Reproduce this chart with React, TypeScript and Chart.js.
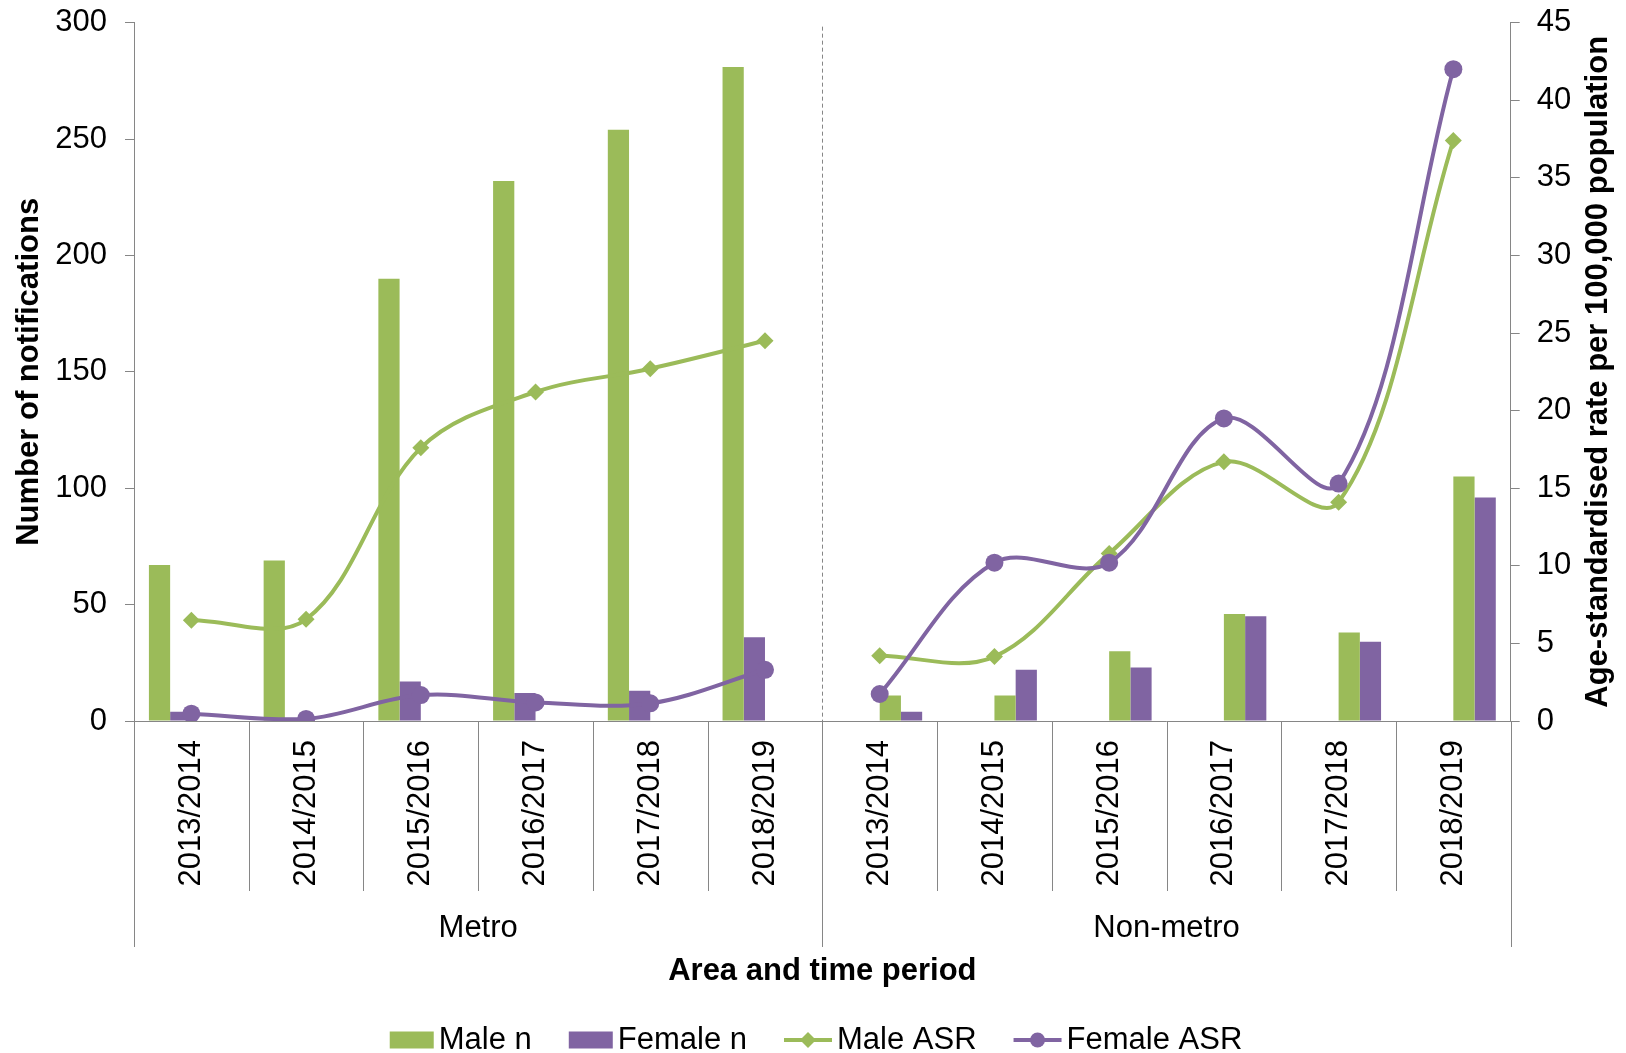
import React, { useEffect, useRef } from 'react';
import { Chart, registerables } from 'chart.js';

Chart.register(...registerables);

// ---------- data ----------
const periods = ['2013/2014', '2014/2015', '2015/2016', '2016/2017', '2017/2018', '2018/2019'];
const areas = ['Metro', 'Non-metro'];

const metroMaleN = [67, 69, 190, 232, 254, 281];
const metroFemaleN = [4, 1, 17, 12, 13, 36];
const nonMetroMaleN = [11, 11, 30, 46, 38, 105];
const nonMetroFemaleN = [4, 22, 23, 45, 34, 96];

const metroMaleASR = [6.5, 6.55, 17.6, 21.2, 22.7, 24.5];
const metroFemaleASR = [0.47, 0.13, 1.67, 1.2, 1.14, 3.3];
const nonMetroMaleASR = [4.2, 4.15, 10.8, 16.7, 14.1, 37.4];
const nonMetroFemaleASR = [1.74, 10.2, 10.2, 19.5, 15.3, 42.0];

const leftAxisMax = 300;
const leftAxisStep = 50;
const rightAxisMax = 45;
const rightAxisStep = 5;

const seriesNames = ['Male n', 'Female n', 'Male ASR', 'Female ASR'];
const leftTitle = 'Number of notifications';
const rightTitle = 'Age-standardised rate per 100,000 population';
const xTitle = 'Area and time period';

// ---------- style ----------
const GREEN = '#9BBB59';
const PURPLE = '#8064A2';
const GRAY = '#868686';
const FONT = "'Liberation Sans', Arial, sans-serif";
const FS = 31;

const nulls = (n: number) => Array(n).fill(null);
const first = (arr: number[]) => [...arr, ...nulls(periods.length)];
const second = (arr: number[]) => [...nulls(periods.length), ...arr];

const decorPlugin = {
  id: 'decor',
  beforeDatasetsDraw(chart: any) {
    const { ctx, chartArea } = chart;
    const x = chart.scales.x;
    const n = chart.data.labels.length;
    const bw = (x.right - x.left) / n;
    const bx = x.left + bw * periods.length;
    ctx.save();
    ctx.strokeStyle = GRAY;
    ctx.lineWidth = 1;
    ctx.setLineDash([4, 3]);
    ctx.beginPath();
    ctx.moveTo(Math.round(bx) + 0.5, chartArea.top + 4);
    ctx.lineTo(Math.round(bx) + 0.5, chartArea.bottom);
    ctx.stroke();
    ctx.restore();
  },
  afterDraw(chart: any) {
    const { ctx, chartArea } = chart;
    const x = chart.scales.x;
    const n = chart.data.labels.length;
    const bw = (x.right - x.left) / n;
    const bottom = chartArea.bottom;
    ctx.save();
    ctx.strokeStyle = GRAY;
    ctx.lineWidth = 1;
    // category separators and group separators
    for (let i = 0; i <= n; i++) {
      const px = Math.round(x.left + bw * i) + 0.5;
      const isGroup = i % periods.length === 0;
      ctx.beginPath();
      ctx.moveTo(px, bottom);
      ctx.lineTo(px, isGroup ? bottom + 226 : bottom + 170);
      ctx.stroke();
    }
    // group labels
    ctx.fillStyle = '#000';
    ctx.font = `${FS}px ${FONT}`;
    ctx.textAlign = 'center';
    ctx.textBaseline = 'middle';
    areas.forEach((a, g) => {
      const cx = x.left + bw * periods.length * (g + 0.5);
      ctx.fillText(a, cx, bottom + 207);
    });
    // x title
    ctx.font = `bold ${FS}px ${FONT}`;
    ctx.fillText(xTitle, (x.left + x.right) / 2, bottom + 250);
    // y titles
    const cy = (chartArea.top + chartArea.bottom) / 2;
    ctx.save();
    ctx.translate(29.5, cy);
    ctx.rotate(-Math.PI / 2);
    ctx.fillText(leftTitle, 0, 0);
    ctx.restore();
    ctx.save();
    ctx.translate(1598, cy);
    ctx.rotate(-Math.PI / 2);
    ctx.fillText(rightTitle, 0, 0);
    ctx.restore();

    // legend
    ctx.font = `${FS}px ${FONT}`;
    const ly = 1040;
    const items = [
      { kind: 'box', color: GREEN, text: seriesNames[0] },
      { kind: 'box', color: PURPLE, text: seriesNames[1] },
      { kind: 'diamond', color: GREEN, text: seriesNames[2] },
      { kind: 'circle', color: PURPLE, text: seriesNames[3] },
    ];
    const markW = (k: string) => (k === 'box' ? 44 : 48);
    const gap = 5;
    const spacing = 37;
    let total = 0;
    items.forEach((it, i) => {
      total += markW(it.kind) + gap + ctx.measureText(it.text).width + (i < items.length - 1 ? spacing : 0);
    });
    let lx = 816 - total / 2;
    ctx.textAlign = 'left';
    items.forEach((it) => {
      const w = markW(it.kind);
      ctx.fillStyle = it.color;
      ctx.strokeStyle = it.color;
      if (it.kind === 'box') {
        ctx.fillRect(lx, ly - 8.5, w, 17);
      } else {
        ctx.lineWidth = 4;
        ctx.beginPath();
        ctx.moveTo(lx, ly);
        ctx.lineTo(lx + w, ly);
        ctx.stroke();
        const mx = lx + w / 2;
        ctx.beginPath();
        if (it.kind === 'diamond') {
          ctx.moveTo(mx - 8, ly);
          ctx.lineTo(mx, ly - 8);
          ctx.lineTo(mx + 8, ly);
          ctx.lineTo(mx, ly + 8);
          ctx.closePath();
        } else {
          ctx.arc(mx, ly, 7.5, 0, Math.PI * 2);
        }
        ctx.fill();
      }
      lx += w + gap;
      ctx.fillStyle = '#000';
      ctx.fillText(it.text, lx, ly);
      lx += ctx.measureText(it.text).width + spacing;
    });
    ctx.restore();
  },
};

export default function App() {
  const canvasRef = useRef<HTMLCanvasElement | null>(null);

  useEffect(() => {
    if (!canvasRef.current) return;
    const labels = [...periods, ...periods];
    const lineCommon = {
      type: 'line' as const,
      yAxisID: 'y1',
      borderWidth: 4,
      tension: 0.35,
      spanGaps: false,
      pointBorderWidth: 0,
      pointHoverRadius: 9,
    };
    const chart = new Chart(canvasRef.current, {
      type: 'bar',
      data: {
        labels,
        datasets: [
          { ...lineCommon, label: seriesNames[3], data: first(metroFemaleASR), borderColor: PURPLE, backgroundColor: PURPLE, pointBackgroundColor: PURPLE, pointStyle: 'circle', pointRadius: 9, order: 0 },
          { ...lineCommon, label: seriesNames[3], data: second(nonMetroFemaleASR), borderColor: PURPLE, backgroundColor: PURPLE, pointBackgroundColor: PURPLE, pointStyle: 'circle', pointRadius: 9, order: 0 },
          { ...lineCommon, label: seriesNames[2], data: first(metroMaleASR), borderColor: GREEN, backgroundColor: GREEN, pointBackgroundColor: GREEN, pointStyle: 'rectRot', pointRadius: 8.5, order: 1 },
          { ...lineCommon, label: seriesNames[2], data: second(nonMetroMaleASR), borderColor: GREEN, backgroundColor: GREEN, pointBackgroundColor: GREEN, pointStyle: 'rectRot', pointRadius: 8.5, order: 1 },
          { type: 'bar', label: seriesNames[0], data: first(metroMaleN), backgroundColor: GREEN, yAxisID: 'y', order: 2 },
          { type: 'bar', label: seriesNames[1], data: first(metroFemaleN), backgroundColor: PURPLE, yAxisID: 'y', order: 2 },
          { type: 'bar', label: seriesNames[0], data: second(nonMetroMaleN), backgroundColor: GREEN, yAxisID: 'y', order: 2 },
          { type: 'bar', label: seriesNames[1], data: second(nonMetroFemaleN), backgroundColor: PURPLE, yAxisID: 'y', order: 2 },
        ] as any,
      },
      options: {
        animation: false,
        responsive: false,
        maintainAspectRatio: false,
        layout: { padding: { top: 22, left: 0, right: 0, bottom: 0 } },
        datasets: { bar: { barPercentage: 1, categoryPercentage: 0.74 } } as any,
        plugins: {
          legend: { display: false },
          tooltip: { enabled: false },
        },
        scales: {
          x: {
            type: 'category',
            offset: true,
            grid: { display: false, drawTicks: false, offset: true },
            border: { display: true, color: GRAY, width: 1 },
            ticks: {
              color: '#000',
              font: { family: FONT, size: FS },
              minRotation: 90,
              maxRotation: 90,
              padding: 19,
              autoSkip: false,
            },
            afterFit: (s: any) => { s.height = 332; },
          },
          y: {
            position: 'left',
            min: 0,
            max: leftAxisMax,
            ticks: { stepSize: leftAxisStep, color: '#000', font: { family: FONT, size: FS, lineHeight: 0.3 }, padding: 18 },
            grid: { drawOnChartArea: false, drawTicks: true, tickLength: 9, color: GRAY },
            border: { display: true, color: GRAY, width: 1 },
            afterFit: (s: any) => { s.width = 134; },
          },
          y1: {
            position: 'right',
            min: 0,
            max: rightAxisMax,
            ticks: { stepSize: rightAxisStep, color: '#000', font: { family: FONT, size: FS, lineHeight: 0.3 }, padding: 17 },
            grid: { drawOnChartArea: false, drawTicks: true, tickLength: 9, color: GRAY },
            border: { display: true, color: GRAY, width: 1 },
            afterFit: (s: any) => { s.width = 115.3; },
          },
        },
      } as any,
      plugins: [decorPlugin],
    });
    return () => chart.destroy();
  }, []);

  return (
    <div style={{ position: 'absolute', left: 0, top: 0, width: 1626, height: 1053, background: '#fff' }}>
      <canvas ref={canvasRef} width={1626} height={1053} style={{ display: 'block' }} />
    </div>
  );
}
